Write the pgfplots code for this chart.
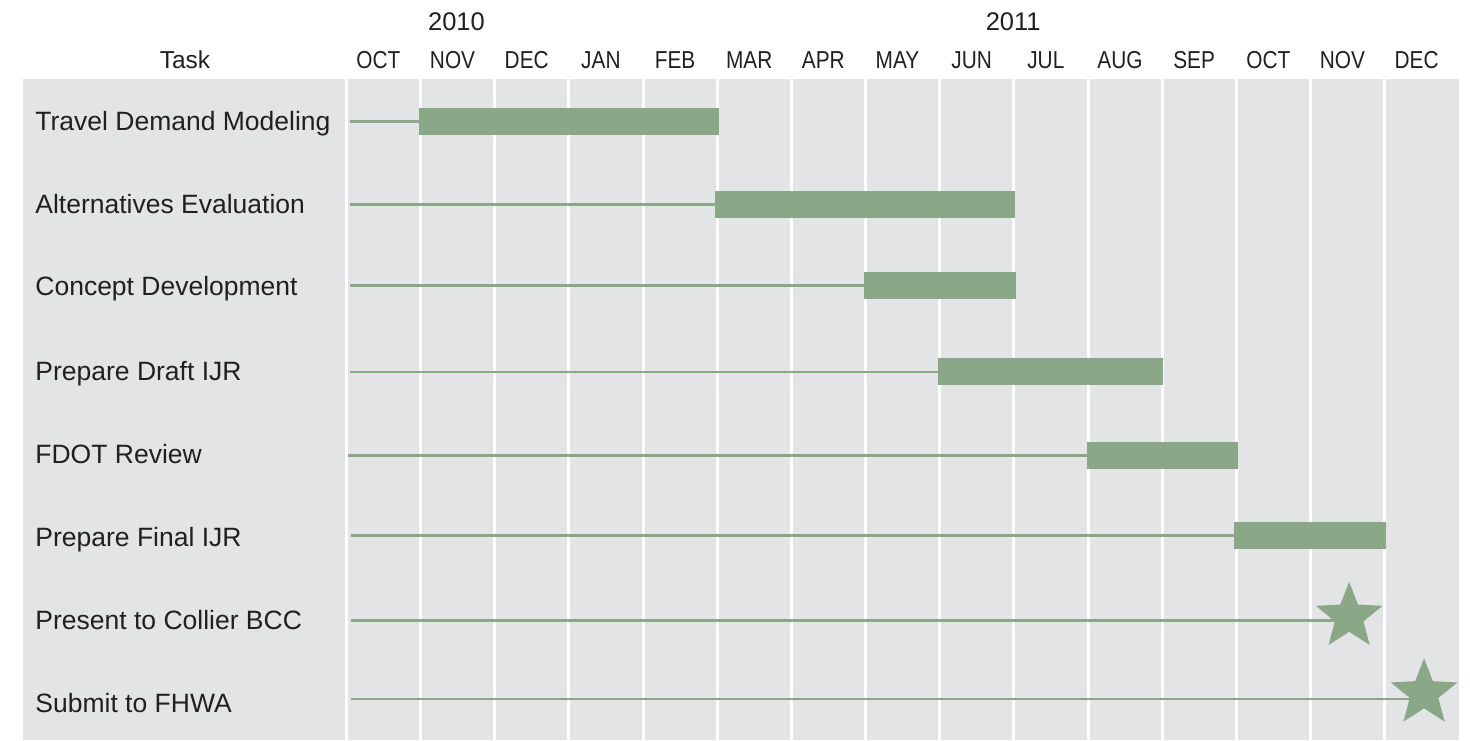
\documentclass[border=0pt]{standalone}
\usepackage{pgfplots}
\pgfplotsset{compat=1.18}
\usepackage{graphicx}
\usepackage{fontspec}
\setmainfont{Liberation Sans}
\definecolor{bggray}{HTML}{E3E4E6}
\definecolor{gbar}{HTML}{8AA887}
\definecolor{txt}{HTML}{231F20}
\pgfdeclareplotmark{fstar}{%
  \pgfpathmoveto{\pgfpointpolar{90}{\pgfplotmarksize}}%
  \pgfpathlineto{\pgfpointpolar{126}{0.43*\pgfplotmarksize}}%
  \pgfpathlineto{\pgfpointpolar{162}{\pgfplotmarksize}}%
  \pgfpathlineto{\pgfpointpolar{198}{0.43*\pgfplotmarksize}}%
  \pgfpathlineto{\pgfpointpolar{234}{\pgfplotmarksize}}%
  \pgfpathlineto{\pgfpointpolar{270}{0.43*\pgfplotmarksize}}%
  \pgfpathlineto{\pgfpointpolar{306}{\pgfplotmarksize}}%
  \pgfpathlineto{\pgfpointpolar{342}{0.43*\pgfplotmarksize}}%
  \pgfpathlineto{\pgfpointpolar{18}{\pgfplotmarksize}}%
  \pgfpathlineto{\pgfpointpolar{54}{0.43*\pgfplotmarksize}}%
  \pgfpathclose
  \pgfusepathqfill
}
\tikzset{
  thinl/.style={gbar, line width=1.25pt},
  barl/.style={gbar, line width=13.5pt, line cap=butt},
  tlab/.style={anchor=base west, inner sep=0pt, text=txt, font=\fontsize{13.25}{15}\selectfont},
  mlab/.style={anchor=base, inner sep=0pt, text=txt, font=\fontsize{12.25}{14}\selectfont},
  ylab/.style={anchor=base, inner sep=0pt, text=txt, font=\fontsize{12.75}{15}\selectfont},
}
\begin{document}
\begin{tikzpicture}
\begin{axis}[
  scale only axis,
  width=717.95pt, height=330.5pt,
  xmin=-4.362, xmax=15,
  ymin=79, ymax=740,
  y dir=reverse,
  clip=false,
  axis line style={draw=none},
  axis background/.style={fill=bggray},
  xtick={0,1,...,14}, xticklabels={},
  major tick length=0pt,
  ytick=\empty,
  xmajorgrids,
  grid style={white, line width=1.5pt},
]
% Travel Demand Modeling
\addplot[thinl, mark=none] coordinates {(0.047,121.5) (0.98,121.5)};
\addplot[barl, mark=none] coordinates {(0.978,121.5) (5.023,121.5)};
% Alternatives Evaluation
\addplot[thinl, mark=none] coordinates {(0.05,204.5) (4.97,204.5)};
\addplot[barl, mark=none] coordinates {(4.969,204.5) (9.014,204.5)};
% Concept Development
\addplot[thinl, mark=none] coordinates {(0.05,285.7) (6.98,285.7)};
\addplot[barl, mark=none] coordinates {(6.978,285.7) (9.028,285.7)};
% Prepare Draft IJR
\addplot[thinl, mark=none] coordinates {(0.05,372) (7.98,372)};
\addplot[barl, mark=none] coordinates {(7.977,371.5) (11.01,371.5)};
% FDOT Review
\addplot[thinl, mark=none] coordinates {(0.02,455.3) (9.98,455.3)};
\addplot[barl, mark=none] coordinates {(9.98,455.5) (12.02,455.5)};
% Prepare Final IJR
\addplot[thinl, mark=none] coordinates {(0.06,535.5) (11.97,535.5)};
\addplot[barl, mark=none] coordinates {(11.965,535.5) (14.017,535.5)};
% Present to Collier BCC
\addplot[thinl, mark=none] coordinates {(0.06,620.7) (13.52,620.7)};
\addplot[gbar, only marks, mark=fstar, mark size=17.5pt] coordinates {(13.52,616.7)};
% Submit to FHWA
\addplot[thinl, mark=none] coordinates {(0.06,699) (14.53,699)};
\addplot[gbar, only marks, mark=fstar, mark size=17.5pt] coordinates {(14.53,693.3)};

% task names
\node[tlab] at (axis cs:-4.2,130) {Travel Demand Modeling};
\node[tlab] at (axis cs:-4.2,213.3) {Alternatives Evaluation};
\node[tlab] at (axis cs:-4.2,295) {Concept Development};
\node[tlab] at (axis cs:-4.2,380.7) {Prepare Draft IJR};
\node[tlab] at (axis cs:-4.2,463.3) {FDOT Review};
\node[tlab] at (axis cs:-4.2,546.7) {Prepare Final IJR};
\node[tlab] at (axis cs:-4.2,629) {Present to Collier BCC};
\node[tlab] at (axis cs:-4.2,712) {Submit to FHWA};

% header
\node[mlab] at (axis cs:-2.178,68.5) {Task};
\node[ylab] at (axis cs:1.483,30) {2010};
\node[ylab] at (axis cs:8.99,30) {2011};
\node[mlab] at (axis cs:0.43,68.5) {\scalebox{0.85}[1]{OCT}};
\node[mlab] at (axis cs:1.43,68.5) {\scalebox{0.85}[1]{NOV}};
\node[mlab] at (axis cs:2.43,68.5) {\scalebox{0.85}[1]{DEC}};
\node[mlab] at (axis cs:3.43,68.5) {\scalebox{0.85}[1]{JAN}};
\node[mlab] at (axis cs:4.43,68.5) {\scalebox{0.85}[1]{FEB}};
\node[mlab] at (axis cs:5.43,68.5) {\scalebox{0.85}[1]{MAR}};
\node[mlab] at (axis cs:6.43,68.5) {\scalebox{0.85}[1]{APR}};
\node[mlab] at (axis cs:7.43,68.5) {\scalebox{0.85}[1]{MAY}};
\node[mlab] at (axis cs:8.43,68.5) {\scalebox{0.85}[1]{JUN}};
\node[mlab] at (axis cs:9.43,68.5) {\scalebox{0.85}[1]{JUL}};
\node[mlab] at (axis cs:10.43,68.5) {\scalebox{0.85}[1]{AUG}};
\node[mlab] at (axis cs:11.43,68.5) {\scalebox{0.85}[1]{SEP}};
\node[mlab] at (axis cs:12.43,68.5) {\scalebox{0.85}[1]{OCT}};
\node[mlab] at (axis cs:13.43,68.5) {\scalebox{0.85}[1]{NOV}};
\node[mlab] at (axis cs:14.43,68.5) {\scalebox{0.85}[1]{DEC}};
\end{axis}
\pgfresetboundingbox
\path[use as bounding box] ([xshift=-11.5pt]current axis.south west) rectangle ([xshift=5.55pt,yshift=39.5pt]current axis.north east);
\end{tikzpicture}
\end{document}
